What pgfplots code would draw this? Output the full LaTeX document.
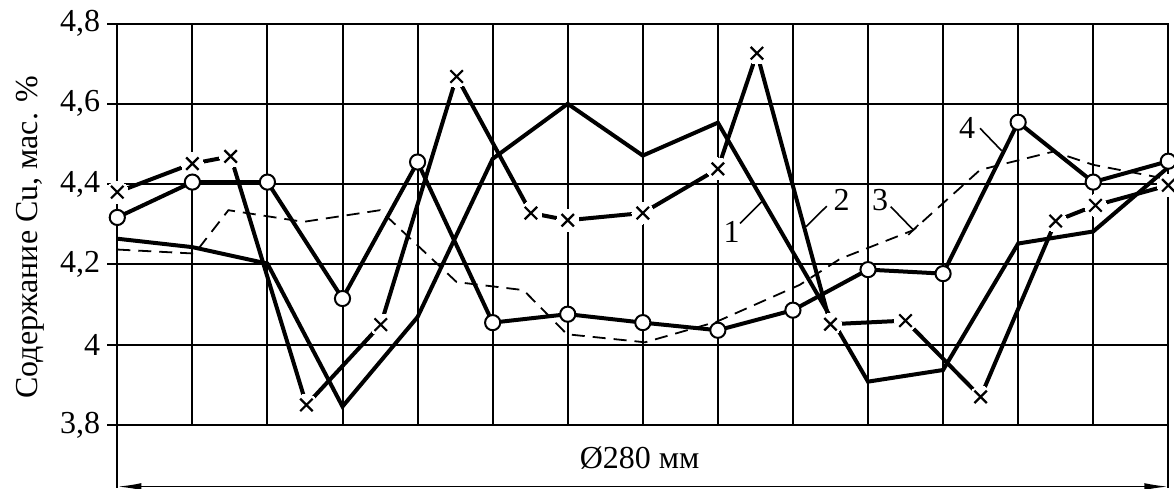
\documentclass[border=0pt]{standalone}
\usepackage{fontspec}
\setmainfont{Liberation Serif}
\usepackage{pgfplots}
\pgfplotsset{compat=1.18}
\usetikzlibrary{arrows.meta}

\begin{document}
\begin{tikzpicture}[font=\rmfamily\fontsize{16}{19}\selectfont]
\path[use as bounding box] (-58.65pt,-31.5pt) rectangle (528.35pt,212.5pt);
\begin{axis}[
  at={(0,0)}, anchor=south west,
  scale only axis, width=525.5pt, height=200.75pt,
  xmin=0, xmax=14, ymin=3.8, ymax=4.8,
  xtick={0,1,...,14}, xticklabels={},
  ytick={3.8,4.0,4.2,4.4,4.6,4.8},
  tick align=outside, ytick pos=left,
  xtick style={draw=none},
  major tick length=5pt,
  every tick/.style={black, line width=1pt},
  grid=major, major grid style={black, line width=1pt},
  axis line style={black, line width=1pt},
  tick label style={font=\rmfamily\fontsize{16}{19}\selectfont},
  yticklabel style={/pgf/number format/.cd, use comma, fixed, precision=1, assume math mode=true},
  ylabel={Содержание Cu, мас. \%},
  ylabel style={at={(axis description cs:-0.083,0.468)}, anchor=center, font=\rmfamily\fontsize{16}{19}\selectfont},
  clip=false,
]
% curve 3 (dashed)
\addplot[black, line width=0.9pt, dash pattern=on 6.5pt off 4pt] coordinates {
(0,4.237) (1.03,4.227) (1.48,4.335) (2.48,4.306) (3.5,4.335) (4.52,4.156)
(5.41,4.136) (5.99,4.026) (7.03,4.006) (7.98,4.057) (9.09,4.149) (9.63,4.214)
(10.6,4.285) (11.49,4.435) (11.76,4.448) (12.47,4.481) (13.0,4.448) (14,4.412)};
% curve 1 (solid, no marks)
\addplot[black, line width=2pt] coordinates {
(0,4.264) (1,4.243) (2,4.202) (3,3.846) (4,4.069) (5,4.463) (6,4.6) (7,4.471)
(8,4.553) (10,3.908) (11,3.937) (12,4.252) (13,4.282) (14,4.442)};
% curve 4 (circles) line
\addplot[black, line width=2pt] coordinates {
(0,4.317) (1,4.405) (2,4.405) (3,4.115) (4,4.455) (5,4.055) (6,4.076) (7,4.055)
(8,4.036) (9,4.086) (10,4.187) (11,4.177) (12,4.554) (13,4.405) (14,4.457)};
% curve 2 (crosses) line
\addplot[black, line width=2pt] coordinates {
(0,4.38) (1,4.451) (1.51,4.469) (2.52,3.85) (3.51,4.05) (4.52,4.668) (5.51,4.328)
(6,4.31) (7,4.328) (8,4.438) (8.52,4.726) (9.5,4.051) (10.5,4.06) (11.5,3.87)
(12.5,4.308) (13.03,4.347) (14,4.397)};
% white gaps around crosses
\addplot[white, only marks, mark=*, mark size=5.5pt, mark options={draw=white, fill=white, line width=0pt}] coordinates {
(0,4.38) (1,4.451) (1.51,4.469) (2.52,3.85) (3.51,4.05) (4.52,4.668) (5.51,4.328)
(6,4.31) (7,4.328) (8,4.438) (8.52,4.726) (9.5,4.051) (10.5,4.06) (11.5,3.87)
(12.5,4.308) (13.03,4.347) (14,4.397)};
% crosses
\addplot[black, only marks, mark=x, mark size=4.4pt, mark options={black, line width=1.1pt}] coordinates {
(0,4.38) (1,4.451) (1.51,4.469) (2.52,3.85) (3.51,4.05) (4.52,4.668) (5.51,4.328)
(6,4.31) (7,4.328) (8,4.438) (8.52,4.726) (9.5,4.051) (10.5,4.06) (11.5,3.87)
(12.5,4.308) (13.03,4.347) (14,4.397)};
% circles
\addplot[black, only marks, mark=*, mark size=3.8pt, mark options={fill=white, draw=black, line width=1pt}] coordinates {
(0,4.317) (1,4.405) (2,4.405) (3,4.115) (4,4.455) (5,4.055) (6,4.076) (7,4.055)
(8,4.036) (9,4.086) (10,4.187) (11,4.177) (12,4.554) (13,4.405) (14,4.457)};
% curve labels
\node[inner sep=0pt] at (axis cs:8.184,4.281) {1};
\draw[black, line width=0.8pt] (axis cs:8.295,4.302) -- (axis cs:8.584,4.356);
\node[inner sep=0pt] at (axis cs:9.650,4.360) {2};
\draw[black, line width=0.8pt] (axis cs:9.450,4.345) -- (axis cs:9.174,4.294);
\node[inner sep=0pt] at (axis cs:10.160,4.360) {3};
\draw[black, line width=0.8pt] (axis cs:10.302,4.344) -- (axis cs:10.603,4.286);
\draw[black, line width=0.8pt] (axis cs:10.603,4.286) ++(-2.5pt,-2.5pt) -- ++(5pt,5pt);
\node[inner sep=0pt] at (axis cs:11.32,4.540) {4};
\draw[black, line width=0.8pt] (axis cs:11.492,4.539) -- (axis cs:11.781,4.483);
\coordinate (LL) at (rel axis cs:0,0);
\coordinate (LR) at (rel axis cs:1,0);
\coordinate (LM) at (rel axis cs:0.497,0);
\end{axis}
% dimension line
\draw[black, line width=1pt] (LL) -- ++(0,-31.5pt);
\draw[black, line width=1pt] (LR) -- ++(0,-31.5pt);
\draw[black, line width=0.8pt, {Latex[length=12pt,width=3.5pt]}-{Latex[length=12pt,width=3.5pt]}] ([yshift=-30.8pt]LL) -- ([yshift=-30.8pt]LR);
\node[inner sep=0pt, anchor=center] at ([yshift=-16.5pt]LM) {Ø280 мм};
\end{tikzpicture}
\end{document}
